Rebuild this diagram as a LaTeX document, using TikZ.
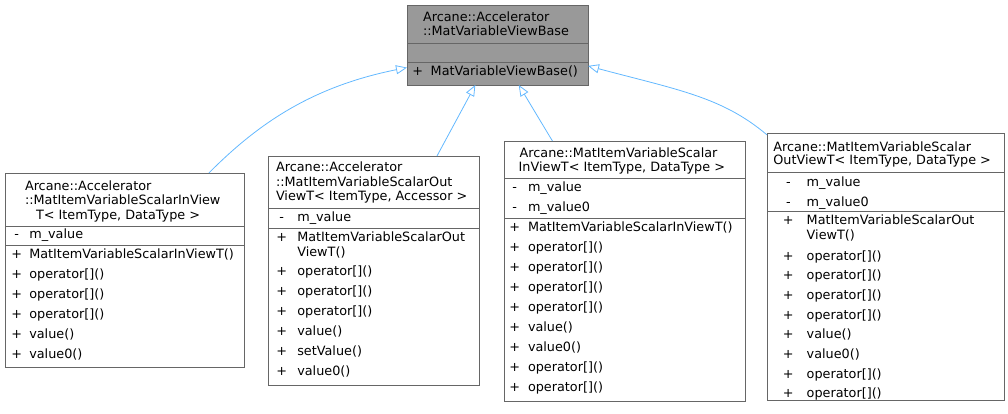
\documentclass[tikz,border=0pt]{standalone}
\usepackage{fontspec}
\setmainfont{DejaVu Sans}
\usetikzlibrary{arrows.meta}
\definecolor{edgeblue}{HTML}{63B8FF}
\definecolor{boxline}{HTML}{666666}
\definecolor{basefill}{HTML}{999999}
\begin{document}
\begin{tikzpicture}
[x = 1pt, y = -1pt,
 every node/.style = {font = \fontsize{12.8}{15}\selectfont, inner sep = 0, outer sep = 0},
 cls/.style = {draw = boxline, fill = white, line width = 0.8pt, anchor = north west},
 basecls/.style = {cls, fill = basefill},
 sep/.style = {draw = boxline, line width = 0.8pt},
 txt/.style = {anchor = base west},
 mk/.style = {anchor = base},
 inh/.style = {draw = edgeblue, line width = 0.8pt, -{Triangle[fill = white, length = 11pt, width = 9pt]}}]
\useasboundingbox (0,0) rectangle (1008,413);
% base class
\node[basecls, minimum width = 181pt, minimum height = 80pt] (tb) at (407,5) {};
\draw[sep] (tb.west |- 0,43) -- (tb.east |- 0,43);
\draw[sep] (tb.west |- 0,62) -- (tb.east |- 0,62);
\node[txt] (tbt1) at (423,21) {Arcane::Accelerator};
\node[txt] (tbt2) at (423,35.5) {::MatVariableViewBase};
\node[mk] (tbp0) at (417.7,75) {+};
\node[txt] (tbm0) at (430.7,75) {MatVariableViewBase()};
% MatItemVariableScalarInViewT (Accelerator)
\node[cls, minimum width = 239pt, minimum height = 194pt] (b1) at (5,173) {};
\draw[sep] (b1.west |- 0,226) -- (b1.east |- 0,226);
\draw[sep] (b1.west |- 0,245) -- (b1.east |- 0,245);
\node[txt] (b1t1) at (25,190) {Arcane::Accelerator};
\node[txt] (b1t2) at (25,204.3) {::MatItemVariableScalarInView};
\node[txt] (b1t3) at (36,219) {T< ItemType, DataType >};
\node[mk] (b1a) at (16.7,238.5) {-};
\node[txt] (b1v) at (29.3,238.5) {m\_value};
\foreach \m [count = \i from 0] in {MatItemVariableScalarInViewT(), operator[](), operator[](), operator[](), value(), value0()}{
  \node[mk] (b1p\i) at (16.7,{258+20*\i}) {+};
  \node[txt] (b1m\i) at (29.3,{258+20*\i}) {\m};
}
% MatItemVariableScalarOutViewT (Accelerator)
\node[cls, minimum width = 211pt, minimum height = 229pt] (b2) at (268,156) {};
\draw[sep] (b2.west |- 0,208) -- (b2.east |- 0,208);
\draw[sep] (b2.west |- 0,228) -- (b2.east |- 0,228);
\node[txt] (b2t1) at (276,171.7) {Arcane::Accelerator};
\node[txt] (b2t2) at (276,186) {::MatItemVariableScalarOut};
\node[txt] (b2t3) at (276,200.7) {ViewT< ItemType, Accessor >};
\node[mk] (b2a) at (281.7,221.7) {-};
\node[txt] (b2v) at (297.3,221.7) {m\_value};
\node[mk] (b2c) at (281.7,241) {+};
\node[txt] (b2c1) at (297.3,241) {MatItemVariableScalarOut};
\node[txt] (b2c2) at (297.3,256) {ViewT()};
\foreach \m [count = \i from 0] in {operator[](), operator[](), operator[](), value(), setValue(), value0()}{
  \node[mk] (b2p\i) at (281.7,{275.2+20*\i}) {+};
  \node[txt] (b2m\i) at (297.3,{275.2+20*\i}) {\m};
}
% MatItemVariableScalarInViewT
\node[cls, minimum width = 241pt, minimum height = 260pt] (b3) at (504,141) {};
\draw[sep] (b3.west |- 0,178) -- (b3.east |- 0,178);
\draw[sep] (b3.west |- 0,218) -- (b3.east |- 0,218);
\node[txt] (b3t1) at (519.7,157.7) {Arcane::MatItemVariableScalar};
\node[txt] (b3t2) at (518.7,171.7) {InViewT< ItemType, DataType >};
\node[mk] (b3a1) at (514.7,191.7) {-};
\node[txt] (b3v1) at (528,191.7) {m\_value};
\node[mk] (b3a2) at (514.7,211.7) {-};
\node[txt] (b3v2) at (528,211.7) {m\_value0};
\foreach \m [count = \i from 0] in {MatItemVariableScalarInViewT(), operator[](), operator[](), operator[](), operator[](), value(), value0(), operator[](), operator[]()}{
  \node[mk] (b3p\i) at (514.7,{231.2+20*\i}) {+};
  \node[txt] (b3m\i) at (528,{231.2+20*\i}) {\m};
}
% MatItemVariableScalarOutViewT
\node[cls, minimum width = 237pt, minimum height = 267pt] (b4) at (767,133) {};
\draw[sep] (b4.west |- 0,172) -- (b4.east |- 0,172);
\draw[sep] (b4.west |- 0,211) -- (b4.east |- 0,211);
\node[txt] (b4t1) at (773.3,151) {Arcane::MatItemVariableScalar};
\node[txt] (b4t2) at (773.3,164.3) {OutViewT< ItemType, DataType >};
\node[mk] (b4a1) at (788.3,186.7) {-};
\node[txt] (b4v1) at (806.7,186.7) {m\_value};
\node[mk] (b4a2) at (788.3,206.7) {-};
\node[txt] (b4v2) at (806.7,206.7) {m\_value0};
\node[mk] (b4c) at (788.3,224.3) {+};
\node[txt] (b4c1) at (806.7,224.3) {MatItemVariableScalarOut};
\node[txt] (b4c2) at (806.7,239) {ViewT()};
\foreach \m [count = \i from 0] in {operator[](), operator[](), operator[](), operator[](), value(), value0(), operator[](), operator[]()}{
  \node[mk] (b4p\i) at (788.3,{260.2+19.67*\i}) {+};
  \node[txt] (b4m\i) at (806.7,{260.2+19.67*\i}) {\m};
}
% inheritance
\draw[inh] (b1.49.6) .. controls +(45,-45) and +(-100,20) .. (tb.194.3);
\draw[inh] (b2.61) -- (tb.241.7);
\draw[inh] (b3.119.5) -- (tb.298.3);
\draw[inh] (b4.132.9) .. controls +(-45,-38) and +(90,24) .. (tb.347.5);
\end{tikzpicture}
\end{document}
